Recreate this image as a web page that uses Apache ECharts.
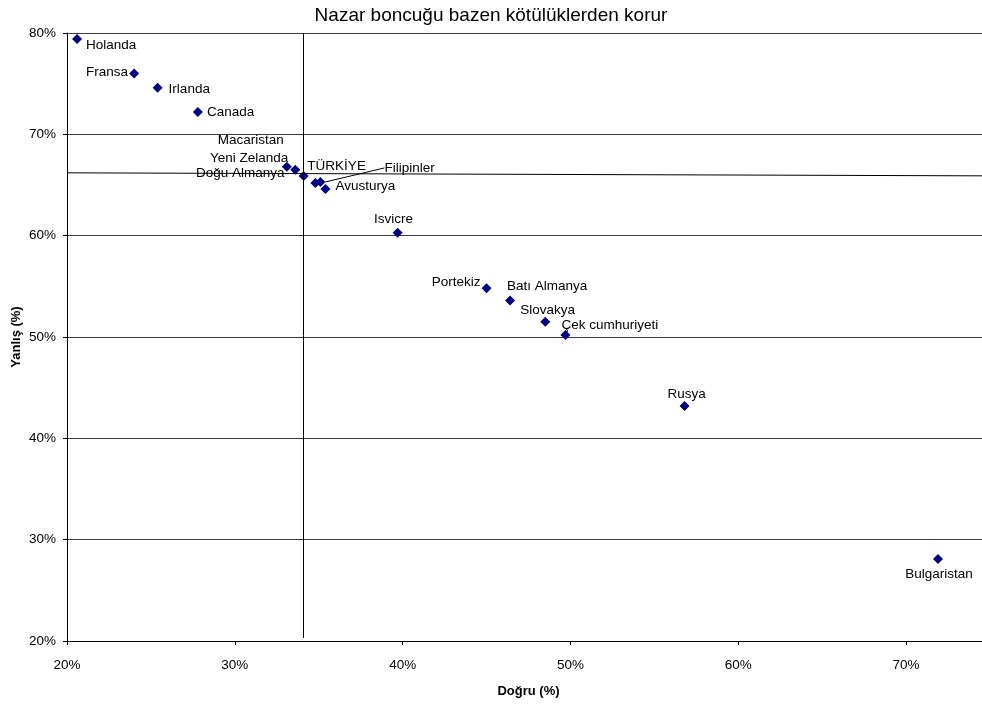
<!DOCTYPE html>
<html>
<head>
<meta charset="utf-8">
<script src="https://cdn.jsdelivr.net/npm/echarts@6/dist/echarts.min.js"></script>
<style>
  html, body { margin: 0; padding: 0; background: #fff; }
  #chart { width: 982px; height: 707px; }
</style>
</head>
<body>
<div id="chart"></div>
<script>
// data (%)
const countries = ['Holanda', 'Fransa', 'Irlanda', 'Canada', 'Macaristan', 'Yeni Zelanda', 'Doğu Almanya',
  'TÜRKİYE', 'Filipinler', 'Avusturya', 'Isvicre', 'Portekiz', 'Batı Almanya', 'Slovakya',
  'Çek cumhuriyeti', 'Rusya', 'Bulgaristan']
const dogru = [20.6, 24.0, 25.4, 27.8, 33.1, 33.6, 34.1, 34.8, 35.1, 35.4, 39.7, 45.0, 46.4, 48.5, 49.7, 56.8, 71.9]
const yanlis = [79.4, 76.0, 74.6, 72.2, 66.8, 66.5, 65.9, 65.2, 65.3, 64.6, 60.3, 54.8, 53.6, 51.5, 50.2, 43.2, 28.1]
const xTicks = [20, 30, 40, 50, 60, 70]
const yTicks = [20, 30, 40, 50, 60, 70, 80]
// reference lines (ortalama)
const meanX = 34.1
const meanYStart = 66.2
const meanYEnd = 65.9

// label placement: [dx, dy, align] from point centre, in px
const labelPos = {
  'Holanda': [9, 6, 'left'],
  'Fransa': [-6, -1, 'right'],
  'Irlanda': [11, 2, 'left'],
  'Canada': [9, 0, 'left'],
  'Macaristan': [-3, -26, 'right'],
  'Yeni Zelanda': [-7, -12, 'right'],
  'Doğu Almanya': [-19, -3, 'right'],
  'TÜRKİYE': [-8, -17, 'left'],
  'Filipinler': [64, -14, 'left'],
  'Avusturya': [10, -3, 'left'],
  'Isvicre': [-4, -13, 'center'],
  'Portekiz': [-6, -6, 'right'],
  'Batı Almanya': [-3, -14, 'left'],
  'Slovakya': [-25, -12, 'left'],
  'Çek cumhuriyeti': [-4, -10, 'left'],
  'Rusya': [2, -12, 'center'],
  'Bulgaristan': [1, 15, 'center']
}

const SYM = 10
const points = countries.map((name, i) => {
  const p = labelPos[name]
  const item = {
    name: name,
    value: [dogru[i], yanlis[i]],
    label: {
      position: [SYM / 2 + p[0], SYM / 2 + p[1]],
      align: p[2],
      verticalAlign: 'middle'
    }
  }
  if (name === 'Filipinler') {
    item.labelLine = { show: true, lineStyle: { color: '#000', width: 1 } }
  }
  return item
})

const chart = echarts.init(document.getElementById('chart'))
const font = 'Liberation Sans, Arial, sans-serif'
chart.setOption({
  animation: false,
  backgroundColor: '#fff',
  textStyle: { fontFamily: font },
  title: {
    text: 'Nazar boncuğu bazen kötülüklerden korur',
    left: 'center',
    top: 1,
    textStyle: { fontSize: 19, fontWeight: 'normal', color: '#000', fontFamily: font }
  },
  grid: { left: 67, right: -8, top: 33, bottom: 66, outerBoundsMode: 'none', containLabel: false },
  xAxis: {
    type: 'value',
    min: 20,
    max: 75,
    interval: 10,
    name: 'Doğru (%)',
    nameLocation: 'middle',
    nameGap: 44,
    nameMoveOverlap: false,
    nameTextStyle: { fontSize: 13, fontWeight: 'bold', color: '#000' },
    axisLine: { lineStyle: { color: '#000', width: 1 } },
    axisTick: { show: true, length: 4, inside: false, customValues: xTicks, lineStyle: { color: '#000' } },
    axisLabel: {
      color: '#000', fontSize: 13.5, margin: 17,
      customValues: xTicks,
      formatter: v => v + '%'
    },
    splitLine: { show: false }
  },
  yAxis: {
    type: 'value',
    min: 20,
    max: 80,
    interval: 10,
    name: 'Yanlış (%)',
    nameLocation: 'middle',
    nameGap: 44,
    nameRotate: 90,
    nameMoveOverlap: false,
    nameTextStyle: { fontSize: 13, fontWeight: 'bold', color: '#000' },
    axisLine: { show: true, lineStyle: { color: '#000', width: 1 } },
    axisTick: { show: true, length: 4, inside: false, lineStyle: { color: '#000' } },
    axisLabel: {
      color: '#000', fontSize: 13.5, margin: 11,
      formatter: v => yTicks.includes(v) ? v + '%' : ''
    },
    splitLine: { show: true, lineStyle: { color: '#3a3a3a', width: 1 } }
  },
  series: [
    {
      type: 'scatter',
      symbol: 'diamond',
      symbolSize: SYM,
      itemStyle: { color: '#000080', opacity: 1 },
      label: {
        show: true,
        formatter: '{b}',
        color: '#000',
        fontSize: 13.5,
        fontFamily: font
      },
      data: points,
      markLine: {
        silent: true,
        symbol: 'none',
        label: { show: false },
        lineStyle: { color: '#000', width: 1, type: 'solid' },
        data: [
          [{ coord: [20, meanYStart] }, { coord: [75, meanYEnd] }],
          [{ coord: [meanX, 80] }, { coord: [meanX, 20.3] }]
        ]
      }
    }
  ]
})
</script>
</body>
</html>
